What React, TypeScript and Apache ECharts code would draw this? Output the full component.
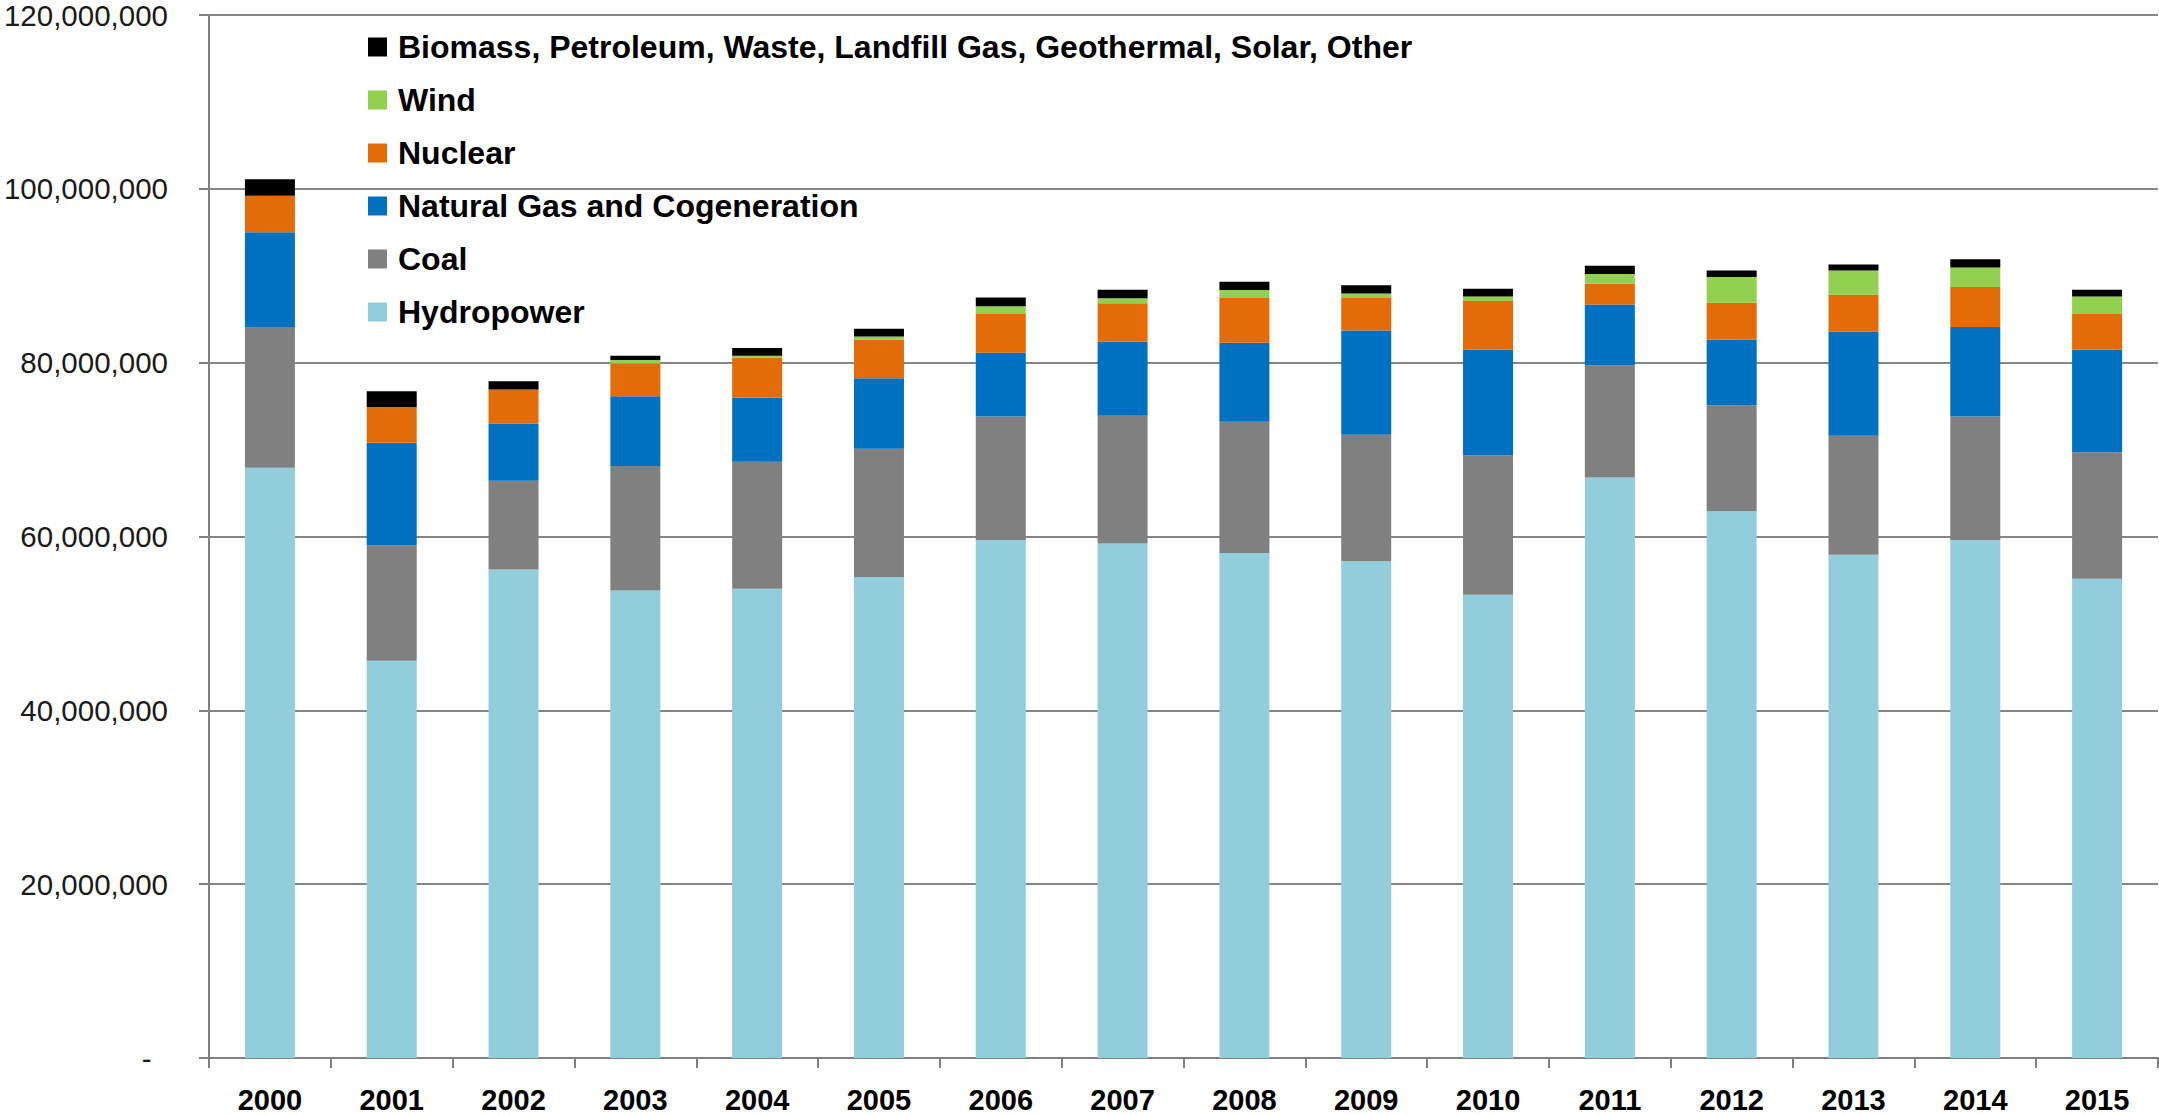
import React, { useEffect, useRef } from "react";
import * as echarts from "echarts";

const years = ["2000", "2001", "2002", "2003", "2004", "2005", "2006", "2007", "2008", "2009", "2010", "2011", "2012", "2013", "2014", "2015"];

const hydropower = [67900000, 45700000, 56200000, 53800000, 54000000, 55350000, 59600000, 59200000, 58100000, 57150000, 53300000, 66800000, 62900000, 57900000, 59600000, 55150000];
const coal = [16200000, 13300000, 10200000, 14300000, 14600000, 14750000, 14200000, 14700000, 15100000, 14550000, 16050000, 12900000, 12200000, 13700000, 14200000, 14550000];
const naturalGas = [10900000, 11800000, 6600000, 8050000, 7400000, 8100000, 7350000, 8500000, 9100000, 12000000, 12150000, 7000000, 7550000, 12000000, 10300000, 11800000];
const nuclear = [4200000, 4100000, 3900000, 3750000, 4600000, 4450000, 4450000, 4450000, 5150000, 3750000, 5600000, 2400000, 4250000, 4200000, 4600000, 4100000];
const wind = [0, 0, 0, 400000, 200000, 350000, 900000, 550000, 900000, 500000, 500000, 1100000, 2950000, 2800000, 2250000, 2000000];
const other = [1900000, 1800000, 950000, 500000, 900000, 900000, 1000000, 1000000, 950000, 950000, 900000, 950000, 750000, 700000, 950000, 800000];

const seriesNames = [
  "Hydropower",
  "Coal",
  "Natural Gas and Cogeneration",
  "Nuclear",
  "Wind",
  "Biomass, Petroleum, Waste, Landfill Gas, Geothermal, Solar, Other",
];
const seriesData = [hydropower, coal, naturalGas, nuclear, wind, other];
const seriesColors = ["#92CDDC", "#808080", "#0070C0", "#E36C09", "#92D050", "#000000"];

export default function App() {
  const ref = useRef<HTMLDivElement>(null);
  useEffect(() => {
    if (!ref.current) return;
    const chart = echarts.init(ref.current, null, { renderer: "svg" });
    const font = "Arial, 'Liberation Sans', sans-serif";
    chart.setOption({
      animation: false,
      backgroundColor: "#ffffff",
      grid: { left: 209, top: 15, right: 1, bottom: 57, containLabel: false },
      legend: {
        orient: "vertical",
        left: 368,
        top: 31,
        padding: 0,
        itemGap: 21,
        itemWidth: 19,
        itemHeight: 19,
        icon: "rect",
        data: seriesNames.slice().reverse(),
        textStyle: {
          fontFamily: font,
          fontWeight: "bold",
          fontSize: 32,
          lineHeight: 32,
          color: "#000",
          padding: [0, 0, 0, 6],
        },
      },
      xAxis: {
        type: "category",
        data: years,
        boundaryGap: true,
        axisLine: { show: true, lineStyle: { color: "#808080", width: 2 } },
        axisTick: { show: true, length: 10, lineStyle: { color: "#808080", width: 2 } },
        axisLabel: {
          margin: 27,
          fontFamily: font,
          fontWeight: "bold",
          fontSize: 29,
          lineHeight: 29,
          color: "#000",
        },
        splitLine: { show: false },
      },
      yAxis: {
        type: "value",
        min: 0,
        max: 120000000,
        interval: 20000000,
        axisLine: { show: true, lineStyle: { color: "#808080", width: 2 } },
        axisTick: { show: true, length: 10, lineStyle: { color: "#808080", width: 2 } },
        axisLabel: {
          margin: 41,
          fontFamily: font,
          fontWeight: "normal",
          fontSize: 29.5,
          lineHeight: 29,
          color: "#1a1a1a",
          formatter: (v: number) => (v === 0 ? "-\u00a0\u00a0" : v.toLocaleString("en-US")),
        },
        splitLine: { show: true, lineStyle: { color: "#858585", width: 2 } },
      },
      series: seriesNames.map((name, i) => ({
        name,
        type: "bar",
        stack: "total",
        barWidth: 50,
        data: seriesData[i],
        itemStyle: { color: seriesColors[i] },
      })),
    });
    return () => chart.dispose();
  }, []);
  return (
    <div
      ref={ref}
      style={{ position: "fixed", left: 0, top: 0, width: 2159, height: 1115, background: "#fff" }}
    />
  );
}
